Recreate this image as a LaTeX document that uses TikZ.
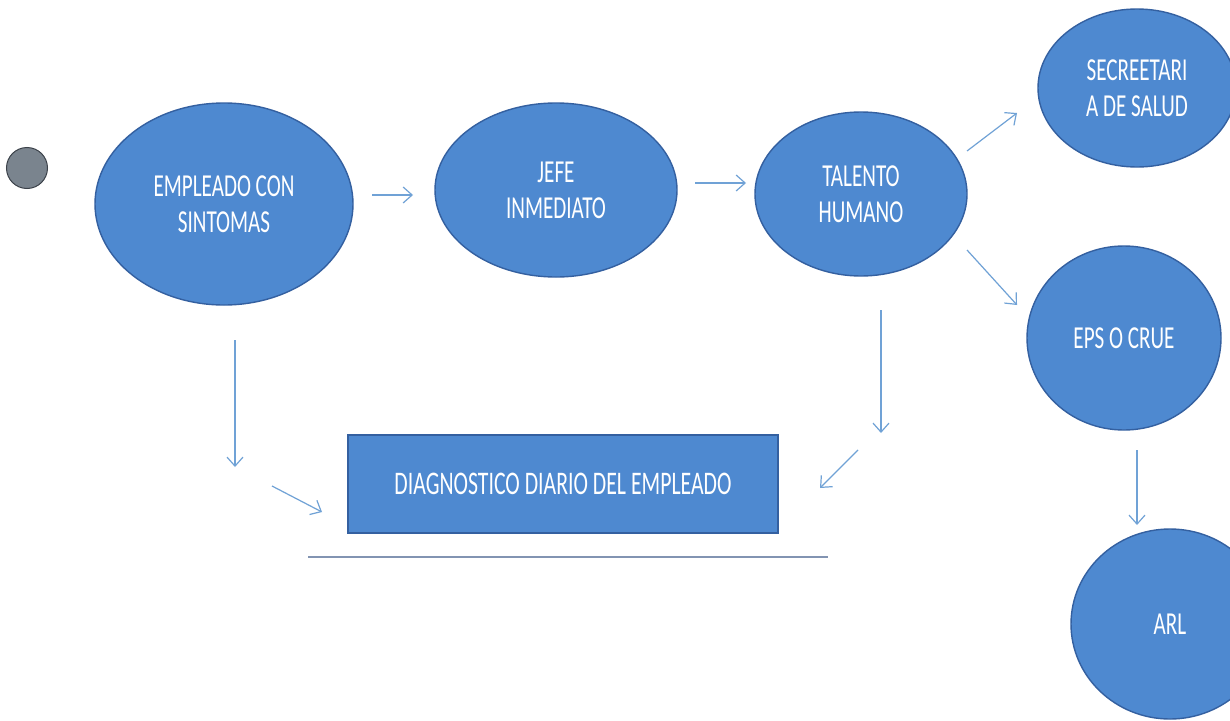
\documentclass[tikz,border=0pt]{standalone}
\usepackage{fontspec}
\setmainfont{Carlito}[FakeStretch=0.66]
\usetikzlibrary{arrows.meta,shapes.geometric}
\definecolor{nodefill}{RGB}{78,137,208}
\definecolor{nodeedge}{RGB}{52,96,160}
\definecolor{arrowc}{RGB}{112,162,214}
\definecolor{linec}{RGB}{130,148,178}
\definecolor{dotfill}{RGB}{122,132,142}
\definecolor{dotedge}{RGB}{60,66,74}
\tikzset{
  bub/.style={ellipse, draw=nodeedge, line width=1.4pt, fill=nodefill, text=white,
    inner sep=0pt, align=center, font=\fontsize{32}{36}\selectfont},
  boxnode/.style={rectangle, draw=nodeedge, line width=2pt, fill=nodefill, text=white,
    inner sep=0pt, align=center, font=\fontsize{33}{36}\selectfont},
  arr/.style={draw=arrowc, line width=1.2pt, -{Straight Barb[length=9pt,width=16pt,line width=1.2pt]}}
}
\begin{document}
\begin{tikzpicture}[x=1pt,y=-1pt]
\useasboundingbox[fill=white] (0,0) rectangle (1230,720);
% dot
\node[circle, minimum size=41pt, inner sep=0pt, fill=dotfill, draw=dotedge, line width=1pt] (dot) at (27,168) {};
% nodes
\node[bub, minimum width=258pt, minimum height=202pt] (emp) at (224,204) {EMPLEADO CON\\SINTOMAS};
\node[bub, minimum width=242pt, minimum height=174pt] (jefe) at (556,190) {JEFE\\INMEDIATO};
\node[bub, minimum width=212pt, minimum height=164pt] (tal) at (861,194) {TALENTO\\HUMANO};
\node[bub, minimum width=198pt, minimum height=158pt] (sec) at (1137,88) {SECREETARI\\A DE SALUD};
\node[bub, minimum width=194pt, minimum height=184pt] (eps) at (1124,338) {EPS O CRUE};
\node[bub, minimum width=198pt, minimum height=190pt] (arl) at (1170,624) {ARL};
\node[boxnode, minimum width=430pt, minimum height=98pt] (diag) at (563,484) {DIAGNOSTICO DIARIO DEL EMPLEADO};
% underline
\coordinate (l1) at (308,557);
\coordinate (l2) at (828,557);
\draw[linec, line width=1.2pt] (l1) -- (l2);
% arrow end points
\coordinate (a1s) at (372,195); \coordinate (a1e) at (413,195);
\coordinate (a2s) at (695,183); \coordinate (a2e) at (746,183);
\coordinate (a3s) at (967,151); \coordinate (a3e) at (1017,113);
\coordinate (a4s) at (967,250); \coordinate (a4e) at (1017,305);
\coordinate (a5s) at (235,340); \coordinate (a5e) at (235,467);
\coordinate (a6s) at (272,486); \coordinate (a6e) at (322,512);
\coordinate (a7s) at (881,310); \coordinate (a7e) at (881,433);
\coordinate (a8s) at (858,450); \coordinate (a8e) at (820,488);
\coordinate (a9s) at (1137,450); \coordinate (a9e) at (1137,525);
\draw[arr] (a1s) -- (a1e);
\draw[arr] (a2s) -- (a2e);
\draw[arr] (a3s) -- (a3e);
\draw[arr] (a4s) -- (a4e);
\draw[arr] (a5s) -- (a5e);
\draw[arr] (a6s) -- (a6e);
\draw[arr] (a7s) -- (a7e);
\draw[arr] (a8s) -- (a8e);
\draw[arr] (a9s) -- (a9e);
\end{tikzpicture}
\end{document}
